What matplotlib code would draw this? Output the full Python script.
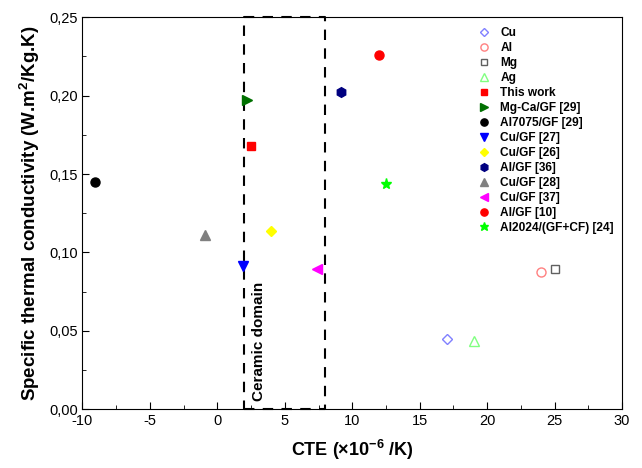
import matplotlib
matplotlib.use("Agg")
import matplotlib.pyplot as plt
from matplotlib.ticker import MultipleLocator, FuncFormatter

plt.rcParams["font.family"] = ["Liberation Sans", "DejaVu Sans"]
plt.rcParams["mathtext.default"] = "regular"
plt.rcParams["axes.unicode_minus"] = False

# Series: (label, CTE, specific thermal conductivity)
labels = ["Cu", "Al", "Mg", "Ag", "This work", "Mg-Ca/GF [29]", "Al7075/GF [29]",
          "Cu/GF [27]", "Cu/GF [26]", "Al/GF [36]", "Cu/GF [28]", "Cu/GF [37]",
          "Al/GF [10]", "Al2024/(GF+CF) [24]"]
cte = [17.0, 24.0, 25.0, 19.0, 2.5, 2.2, -9.1, 1.9, 4.0, 9.15, -0.9, 7.4, 12.0, 12.5]
stc = [0.0445, 0.0877, 0.0894, 0.0437, 0.168, 0.197, 0.145, 0.091, 0.1137,
       0.2024, 0.111, 0.0894, 0.2262, 0.1437]

markers = ["D", "o", "s", "^", "s", ">", "o", "v", "D", "h", "^", "<", "o", "*"]
colors = ["#8080ff", "#ff8080", "#606060", "#80ff80", "red", "#007000", "black",
          "blue", "yellow", "#000080", "gray", "magenta", "red", "lime"]
hollow = [True, True, True, True] + [False] * 10
sizes = [5.5, 6.5, 6, 7, 6, 7, 6.5, 7, 5.5, 7, 7, 7, 6.5, 8]

# Ceramic domain box
box_x = [2, 8]
box_y = [0, 0.25]

fig = plt.figure(figsize=(6.42, 4.68), dpi=100)
ax = fig.add_axes([0.1285, 0.126, 0.8405, 0.837])

for lab, x, y, m, c, h, s in zip(labels, cte, stc, markers, colors, hollow, sizes):
    ax.plot(x, y, linestyle="none", marker=m, markersize=s,
            markerfacecolor="none" if h else c, markeredgecolor=c,
            markeredgewidth=1.0, label=lab)

ax.plot([box_x[0], box_x[1], box_x[1], box_x[0], box_x[0]],
        [box_y[0], box_y[0], box_y[1], box_y[1], box_y[0]],
        color="black", linestyle=(0, (5, 4)), linewidth=1.5, clip_on=False, zorder=1)

ax.text(3.1, 0.005, "Ceramic domain", rotation=90, fontsize=11, fontweight="bold",
        ha="center", va="bottom")

ax.set_xlim(-10, 30)
ax.set_ylim(0, 0.25)
ax.xaxis.set_major_locator(MultipleLocator(5))
ax.xaxis.set_minor_locator(MultipleLocator(2.5))
ax.yaxis.set_major_locator(MultipleLocator(0.05))
ax.yaxis.set_minor_locator(MultipleLocator(0.025))
ax.yaxis.set_major_formatter(FuncFormatter(lambda v, p: f"{v:.2f}".replace(".", ",")))
ax.tick_params(which="both", direction="in", top=False, right=False, labelsize=10.5)
ax.tick_params(which="major", length=5)
ax.tick_params(which="minor", length=3)

ax.set_xlabel(r"CTE ($\times$10$^{-6}$ /K)", fontsize=13, fontweight="bold", labelpad=7)
ax.set_ylabel(r"Specific thermal conductivity (W.m$^{2}$/Kg.K)", fontsize=13.5,
              fontweight="bold", labelpad=5)

ax.legend(loc="upper right", frameon=False, prop={"weight": "bold", "size": 8.6},
          handletextpad=0.4, labelspacing=0.25, borderaxespad=0.3, markerscale=0.8,
          bbox_to_anchor=(1.0, 0.997))

fig.savefig("out.png", dpi=100)
